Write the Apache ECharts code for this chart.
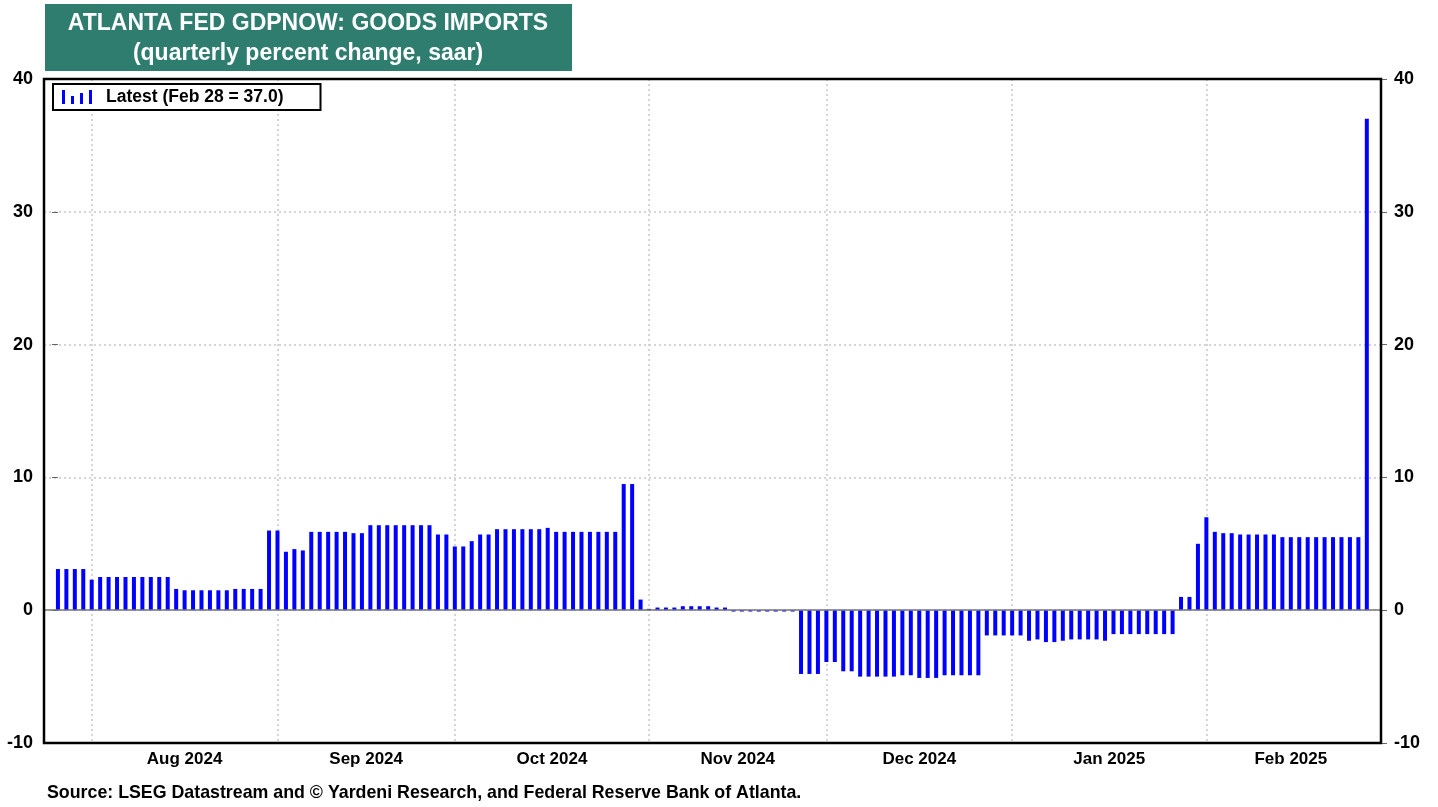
<!DOCTYPE html>
<html><head><meta charset="utf-8">
<script src="https://cdn.jsdelivr.net/npm/echarts@6/dist/echarts.min.js"></script>
<style>html,body{margin:0;padding:0;background:#fff}#c{width:1438px;height:807px}</style>
</head><body><div id="c"></div>
<script>
// ---- data ----
const startDate = '2024-07-26';
const endDate = '2025-02-28';
// one value per business day (Jul 26 2024 .. Feb 28 2025)
const values = [
  3.1,3.1,3.1,3.1,
  2.3,2.5,2.5,2.5,2.5,2.5,2.5,2.5,2.5,2.5,1.6,1.5,1.5,1.5,1.5,1.5,1.5,1.6,1.6,1.6,1.6,6.0,
  6.0,4.4,4.6,4.5,5.9,5.9,5.9,5.9,5.9,5.8,5.8,6.4,6.4,6.4,6.4,6.4,6.4,6.4,6.4,5.7,5.7,
  4.8,4.8,5.2,5.7,5.7,6.1,6.1,6.1,6.1,6.1,6.1,6.2,5.9,5.9,5.9,5.9,5.9,5.9,5.9,5.9,9.5,9.5,0.8,
  0.1,0.2,0.2,0.2,0.3,0.3,0.3,0.3,0.2,0.2,-0.1,-0.1,-0.1,-0.1,-0.1,-0.1,-0.1,-0.1,-4.8,-4.8,-4.8,
  -3.9,-3.9,-4.6,-4.6,-5.0,-5.0,-5.0,-5.0,-5.0,-4.9,-4.9,-5.1,-5.1,-5.1,-4.9,-4.9,-4.9,-4.9,-4.9,-1.9,-1.9,
  -1.9,-1.9,-1.9,-2.3,-2.2,-2.4,-2.4,-2.3,-2.2,-2.2,-2.2,-2.2,-2.3,-1.8,-1.8,-1.8,-1.8,-1.8,-1.8,-1.8,-1.8,1.0,1.0,5.0,
  7.0,5.9,5.8,5.8,5.7,5.7,5.7,5.7,5.7,5.5,5.5,5.5,5.5,5.5,5.5,5.5,5.5,5.5,5.5,37.0
];
const titleLines = ['ATLANTA FED GDPNOW: GOODS IMPORTS', '(quarterly percent change, saar)'];
const legendLabel = 'Latest (Feb 28 = 37.0)';
const sourceText = 'Source: LSEG Datastream and \u00A9 Yardeni Research, and Federal Reserve Bank of Atlanta.';
const monthNames = ['Jan','Feb','Mar','Apr','May','Jun','Jul','Aug','Sep','Oct','Nov','Dec'];
const yMin = -10, yMax = 40, yStep = 10;

// ---- business-day categories ----
function businessDays(s, e) {
  const out = [];
  const d = new Date(s + 'T00:00:00Z'), end = new Date(e + 'T00:00:00Z');
  while (d <= end) {
    const wd = d.getUTCDay();
    if (wd !== 0 && wd !== 6) out.push(new Date(d.getTime()));
    d.setUTCDate(d.getUTCDate() + 1);
  }
  return out;
}
const dates = businessDays(startDate, endDate);
const monthStarts = [];
for (let i = 1; i < dates.length; i++) {
  if (dates[i].getUTCMonth() !== dates[i-1].getUTCMonth()) monthStarts.push(i);
}
const monthMids = [], labelMap = {};
monthStarts.forEach((s, k) => {
  const next = k + 1 < monthStarts.length ? monthStarts[k+1] : dates.length;
  const mid = (s + next) / 2;
  monthMids.push(mid);
  labelMap[mid] = monthNames[dates[s].getUTCMonth()] + ' ' + dates[s].getUTCFullYear();
});

const FONT = 'Arial, "Liberation Sans", Helvetica, sans-serif';
const W = 1438, H = 807;
const G = {left: 44, right: 57, top: 79, bottom: 64};
const chart = echarts.init(document.getElementById('c'), null, {renderer: 'canvas'});
const yAxisBase = {
  type: 'value', min: yMin, max: yMax, interval: yStep,
  axisLine: {show: false},
  axisTick: {show: true, length: 6, lineStyle: {color: '#666', width: 1}}
};
const yLabel = {color: '#000', fontWeight: 'bold', fontSize: 18, fontFamily: FONT};
chart.setOption({
  animation: false,
  backgroundColor: '#fff',
  grid: Object.assign({show: false}, G),
  xAxis: {
    type: 'value', min: -1.65, max: dates.length - 1 + 1.68,
    axisLine: {show: false},
    axisTick: {show: false, customValues: monthStarts},
    splitLine: {show: true, lineStyle: {color: '#c8c8c8', width: 1.5, type: [2, 3]}},
    axisLabel: {
      customValues: monthMids,
      formatter: v => labelMap[v] || '',
      color: '#000', fontWeight: 'bold', fontSize: 17, fontFamily: FONT, margin: 8
    }
  },
  yAxis: [
    Object.assign({}, yAxisBase, {position: 'left',
      axisLabel: Object.assign({margin: 11}, yLabel),
      splitLine: {show: true, showMinLine: false, showMaxLine: false, lineStyle: {color: '#c8c8c8', width: 1.5, type: [2, 3]}}}),
    Object.assign({}, yAxisBase, {position: 'right',
      axisLabel: Object.assign({margin: 13}, yLabel),
      splitLine: {show: false}})
  ],
  legend: {
    left: 53, top: 84, selectedMode: false,
    data: [{name: legendLabel, icon: 'path://M0,0H3V14H0Z M9,6H12V14H9Z M18,3H21V14H18Z M27,0H30V14H27Z'}],
    itemWidth: 30, itemHeight: 14, itemGap: 10,
    borderColor: '#000', borderWidth: 2, backgroundColor: '#fff',
    padding: [4, 37, 4, 9],
    textStyle: {color: '#000', fontWeight: 'bold', fontSize: 17.5, fontFamily: FONT, padding: [0, 0, 0, 9]}
  },
  graphic: [
    {type: 'rect', shape: {x: 45, y: 4, width: 527, height: 67}, style: {fill: '#2E7D6F'}, z: 10},
    {type: 'text', x: 308, y: 24, z: 11, style: {text: titleLines[0], fill: '#fff', font: 'bold 23px ' + FONT, align: 'center', verticalAlign: 'middle'}},
    {type: 'text', x: 308, y: 54, z: 11, style: {text: titleLines[1], fill: '#fff', font: 'bold 23px ' + FONT, align: 'center', verticalAlign: 'middle'}},
    {type: 'text', x: 47, y: 793, z: 11, style: {text: sourceText, fill: '#000', font: 'bold 17.8px ' + FONT, align: 'left', verticalAlign: 'middle'}},
    {type: 'rect', silent: true, z: 100,
      shape: {x: G.left, y: G.top, width: W - G.left - G.right, height: H - G.top - G.bottom},
      style: {fill: 'none', stroke: '#000', lineWidth: 2.5}}
  ],
  series: [{
    type: 'bar', name: legendLabel,
    data: values.map((v, i) => [i, v]),
    barWidth: 4,
    itemStyle: {color: '#0000FF'},
    emphasis: {disabled: true},
    z: 3,
    markLine: {
      silent: true, symbol: 'none', label: {show: false},
      lineStyle: {color: '#777', width: 1.5, type: 'solid'},
      data: [{yAxis: 0}]
    }
  }]
});
</script>
</body></html>
